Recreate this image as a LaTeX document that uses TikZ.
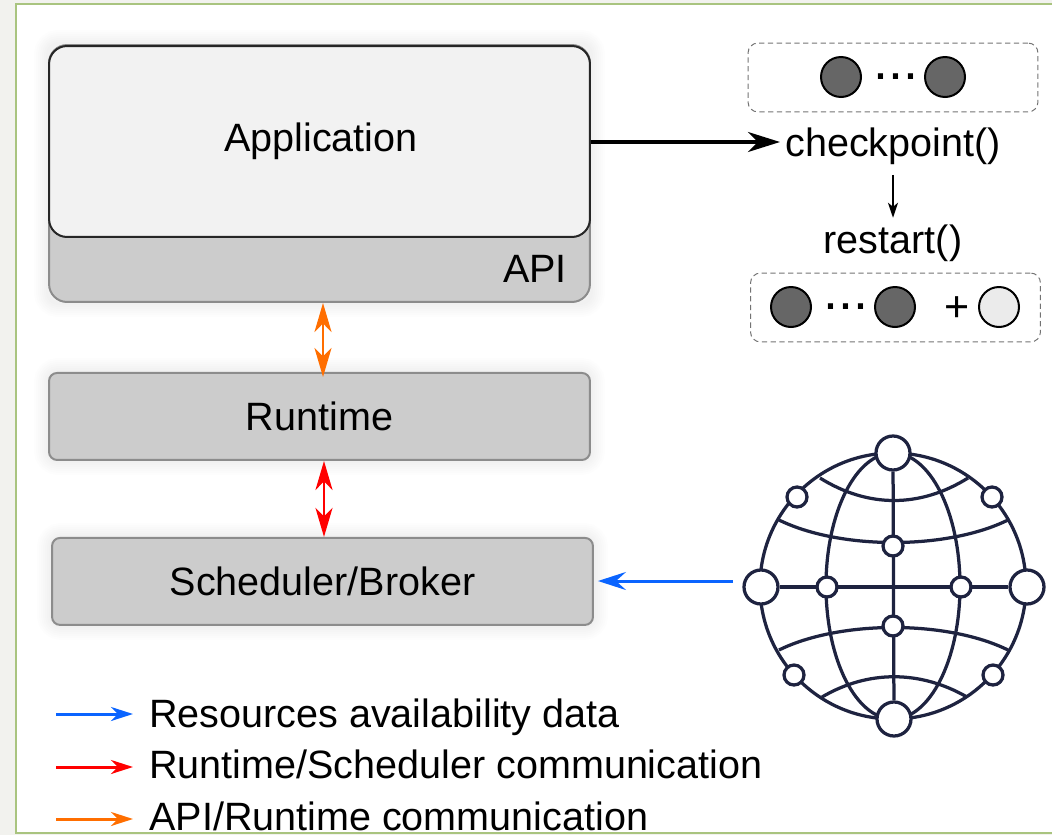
\documentclass[tikz,border=0pt]{standalone}
\usepackage{fontspec}
\setmainfont{Liberation Sans}
\usetikzlibrary{positioning}
\usetikzlibrary{arrows.meta}
\usetikzlibrary{backgrounds}
\definecolor{framegreen}{HTML}{A9C47F}
\definecolor{stripgray}{HTML}{F2F2EE}
\definecolor{globeink}{HTML}{1E2340}
\definecolor{resblue}{HTML}{0A64FF}
\definecolor{apiorange}{HTML}{FF6E00}

\begin{document}
\begin{tikzpicture}[x=0.02cm, y=-0.02cm,
textnode/.style={inner sep=0pt, font=\fontsize{22.5}{26}\selectfont},
layernode/.style={rectangle, rounded corners=0.16cm, draw=black!45, line width=0.04cm, fill=black!20, minimum width=10.82cm, minimum height=1.74cm, inner sep=0pt, font=\fontsize{22.5}{26}\selectfont},
snapshot/.style={rectangle, rounded corners=0.2cm, draw=black!55, densely dashed, line width=0.02cm, minimum width=5.8cm, minimum height=1.38cm},
fullnode/.style={circle, draw=black, fill=black!60, line width=0.04cm, minimum size=0.8cm, inner sep=0pt},
sparenode/.style={circle, draw=black, fill=black!8, line width=0.04cm, minimum size=0.8cm, inner sep=0pt},
dotsnode/.style={inner sep=0pt, font=\fontsize{30.6}{32}\selectfont},
hubnode/.style={circle, draw=globeink, fill=white, line width=0.065cm, minimum size=0.68cm, inner sep=0pt},
linknode/.style={circle, draw=globeink, fill=white, line width=0.065cm, minimum size=0.4cm, inner sep=0pt},
globeline/.style={draw=globeink, line width=0.065cm},
bigarrow/.style={{Stealth[length=0.58cm, width=0.34cm, inset=0.17cm]}-{Stealth[length=0.58cm, width=0.34cm, inset=0.17cm]}, line width=0.05cm},
legendarrow/.style={-{Stealth[length=0.44cm, width=0.28cm, inset=0.14cm]}, line width=0.06cm},
]
\useasboundingbox (0,0) rectangle (1052,835);

%Nodes
\node[layernode, rounded corners=0.36cm, minimum height=5.14cm] (API) at (319.5,173.5) {};
\node[layernode, rounded corners=0.36cm, draw=black!85, fill=black!5, minimum height=3.82cm] (Application) at (319.5,141.5) {};
\node[textnode] (AppLabel) at (321,141) {Application};
\node[textnode] (APILabel) at (535,269) {API};
\node[layernode, below=1.38cm of API] (Runtime) {Runtime};
\node[layernode, below=1.52cm of Runtime, xshift=0.06cm] (Scheduler) {Scheduler/Broker};

\node[textnode] (Checkpoint) at (893,146) {checkpoint()};
\node[textnode, below=1.2cm of Checkpoint] (Restart) {restart()};
\node[snapshot] (SaveBox) at (893,77.5) {};
\node[snapshot] (LoadBox) at (895.5,307.5) {};
\node[fullnode] (S1) at (841,77) {};
\node[fullnode] (S2) at (945,77) {};
\node[dotsnode] (SaveDots) at (896,77) {...};
\node[fullnode] (R1) at (791,307) {};
\node[fullnode] (R2) at (895,307) {};
\node[sparenode] (R3) at (999,307) {};
\node[dotsnode] (LoadDots) at (846,307) {...};
\node[textnode, font=\fontsize{24.5}{26}\selectfont] (Plus) at (957,309) {+};

%Frame and soft shadows
\begin{scope}[on background layer]
\foreach \n in {API,Runtime,Scheduler}
  \foreach \w in {0.08,0.16,...,0.64}
    \draw[black, opacity=0.006, line width=\w cm, rounded corners=0.2cm] (\n.south west) rectangle (\n.north east);
\fill[stripgray] (0,0) rectangle (16,835);
\fill[stripgray] (0,0) rectangle (1052,4);
\fill[stripgray] (0,833) rectangle (1052,835);
\draw[framegreen, line width=0.04cm] (1052,4) -- (16,4) -- (16,833) -- (1052,833);
\end{scope}

%Globe
\draw[globeline] (893,586) circle [radius=133];
\draw[globeline] (893,586) ellipse [x radius=67, y radius=133];
\coordinate (P1a) at (820,478);
\coordinate (P1b) at (968,478);
\coordinate (P2a) at (779,520);
\coordinate (P2b) at (1008,520);
\coordinate (P3a) at (779,650);
\coordinate (P3b) at (1008,650);
\coordinate (P4a) at (822,697);
\coordinate (P4b) at (967,697);
\draw[globeline] (P1a) .. controls (868,508) and (920,508) .. (P1b);
\draw[globeline] (P2a) .. controls (840,550) and (947,550) .. (P2b);
\draw[globeline] (P3a) .. controls (840,620) and (947,620) .. (P3b);
\draw[globeline] (P4a) .. controls (868,670) and (920,670) .. (P4b);
\node[hubnode] (GTop) at (893,453) {};
\node[hubnode] (GBottom) at (894,719) {};
\node[hubnode] (GLeft) at (761,587) {};
\node[hubnode] (GRight) at (1027,587) {};
\draw[globeline] (GTop) -- (GBottom);
\draw[globeline] (GLeft) -- (GRight);
\node[linknode] (GUL) at (797,497) {};
\node[linknode] (GUR) at (992,497) {};
\node[linknode] (GLL) at (794,675) {};
\node[linknode] (GLR) at (993,675) {};
\node[linknode] (GN) at (893,546) {};
\node[linknode] (GS) at (893,626) {};
\node[linknode] (GW) at (827,587) {};
\node[linknode] (GE) at (961,587) {};
\coordinate (GlobeOut) at (733,581);

%Legend
\node[textnode, anchor=base west] (LegendBlue) at (149,727) {Resources availability data};
\node[textnode, anchor=base west] (LegendRed) at (149,778.5) {Runtime/Scheduler communication};
\node[textnode, anchor=base west] (LegendOrange) at (149,830) {API/Runtime communication};
\coordinate (BlueStart) at (56,714);
\coordinate (RedStart) at (56,767);
\coordinate (OrangeStart) at (56,819);

%Lines
\draw[-{Stealth[length=0.64cm, width=0.4cm, inset=0.2cm]}, line width=0.065cm, shorten >=0.1cm] (Application.east |- 590,142) -- (Checkpoint.west |- 590,142);
\draw[-{Stealth[length=0.3cm, width=0.2cm, inset=0.08cm]}, line width=0.03cm, shorten <=0.2cm, shorten >=0.14cm] (Checkpoint.south) -- (Restart.north);
\draw[bigarrow, apiorange, shorten >=-0.1cm] ([xshift=0.07cm]API.south) -- ([xshift=0.07cm]Runtime.north);
\draw[bigarrow, red] ([xshift=0.09cm]Runtime.south) -- ([xshift=0.03cm]Scheduler.north);
\draw[-{Stealth[length=0.56cm, width=0.36cm, inset=0.2cm]}, resblue, line width=0.06cm, shorten >=0.08cm] (GlobeOut) -- (GlobeOut -| Scheduler.east);
\draw[legendarrow, resblue, shorten >=0.32cm] (BlueStart) -- (BlueStart -| LegendBlue.west);
\draw[legendarrow, red, shorten >=0.32cm] (RedStart) -- (RedStart -| LegendRed.west);
\draw[legendarrow, apiorange, shorten >=0.32cm] (OrangeStart) -- (OrangeStart -| LegendOrange.west);
\end{tikzpicture}
\end{document}
